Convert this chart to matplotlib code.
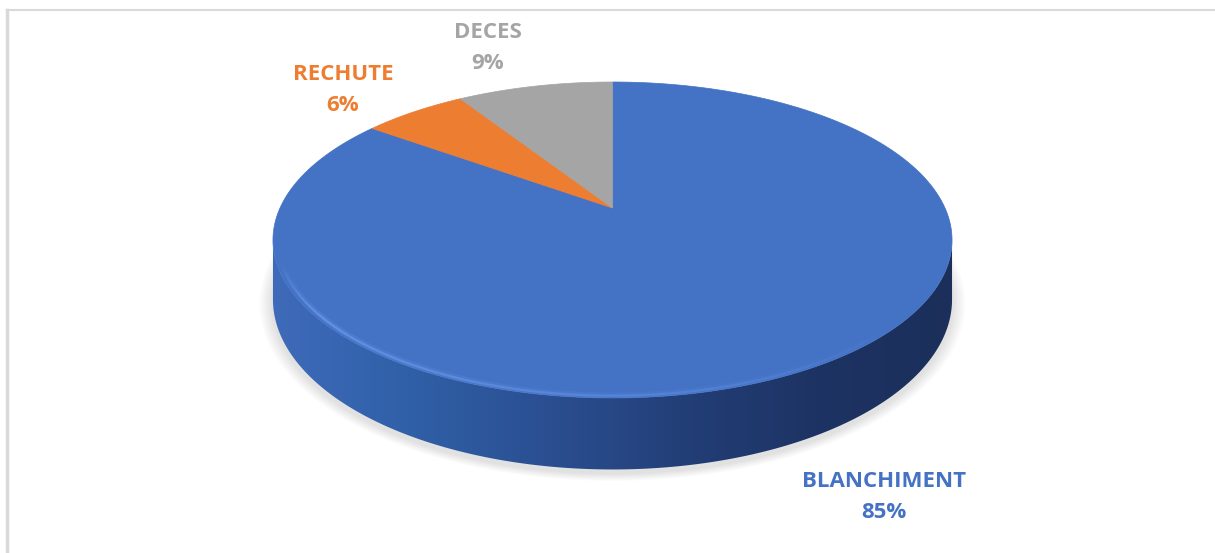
import numpy as np
import matplotlib.pyplot as plt
from matplotlib.patches import Polygon
from matplotlib.colors import LinearSegmentedColormap

# outcome shares
labels = ["BLANCHIMENT", "RECHUTE", "DECES"]
shares = [85, 6, 9]
colors = ["#4472C4", "#ED7D31", "#A5A5A5"]

W, H_PX = 1215, 553
fig = plt.figure(figsize=(W / 100, H_PX / 100), dpi=100)
ax = fig.add_axes([0, 0, 1, 1])
ax.set_xlim(0, W)
ax.set_ylim(H_PX, 0)
ax.axis("off")

# perspective disc: centre of the top face, radius, depth
CX, R = 612.5, 332.5
A, B, C = -109.4, 208.0, 0.2025
THICK = 57.0


def proj(phi, r=1.0, drop=0.0):
    u = r * np.cos(phi)
    v = r * np.sin(phi)
    d = 1 + C * v
    return CX + R * u / d, (A * v + B + drop) / d


# silhouette angles of the rim
phi_l = np.pi + np.arcsin(C)
phi_r = 2 * np.pi - np.arcsin(C)

# soft shadow under the disc
t = np.linspace(0, 2 * np.pi, 300)
bx, by = proj(t, 1.0, THICK)
mx, my = bx.mean(), by.mean()
for k in range(10):
    s = 1.0 + 0.004 * (k + 1)
    ax.add_patch(Polygon(np.column_stack([mx + (bx - mx) * s, my + 4 + (by - my) * s]),
                         closed=True, fc="black", ec="none", alpha=0.012, zorder=1))

# side wall (all of the front belongs to the first slice)
ps = np.linspace(phi_l, phi_r, 300)
tx, ty = proj(ps)
sx, sy = proj(ps[::-1], 1.0, THICK)
side = Polygon(np.column_stack([np.r_[tx, sx], np.r_[ty, sy]]), closed=True,
               fc="none", ec="none", zorder=2)
ax.add_patch(side)
side_cmap = LinearSegmentedColormap.from_list(
    "side", ["#3f6bba", "#3060a8", "#2b4f92", "#233f78", "#1d3363", "#1b2f5a"])
grad = np.linspace(0, 1, 256)[None, :]
im = ax.imshow(grad, cmap=side_cmap, aspect="auto",
               extent=[CX - R * 1.03, CX + R * 1.03, 480, 180], zorder=2)
im.set_clip_path(side)

# top face wedges, clockwise from 12 o'clock
start = np.pi / 2
for val, col in zip(shares, colors):
    sweep = val / sum(shares) * 2 * np.pi
    arc = np.linspace(start, start - sweep, max(int(val * 6), 20))
    ax_, ay_ = proj(arc)
    cx0, cy0 = proj(0.0, 0.0)
    ax.add_patch(Polygon(np.column_stack([np.r_[cx0, ax_], np.r_[cy0, ay_]]),
                         closed=True, fc=col, ec=col, lw=0.5, zorder=3))
    start -= sweep

# soft light bevel along the front rim
hp = np.linspace(phi_l + 0.12, 1.75 * np.pi, 80)
for rr, lw, amax in [(0.984, 4.0, 0.25), (0.986, 1.6, 0.75)]:
    hx, hy = proj(hp, rr)
    for i in range(len(hp) - 1):
        f = i / len(hp)
        a = amax * min(1.0, f * 6) * (1 - f) ** 0.8
        ax.plot(hx[i:i + 2], hy[i:i + 2] + 1, color="#6d9ef0", lw=lw, alpha=a,
                solid_capstyle="butt", zorder=4)

# chart frame (top and left edges)
ax.plot([7, W], [10, 10], color="#d9d9d9", lw=1.5, zorder=5)
ax.plot([7, 7], [10, H_PX], color="#d9d9d9", lw=2.5, zorder=5)

# data labels
font = dict(family=["Open Sans", "DejaVu Sans"], fontweight="bold", fontsize=16,
            ha="center", va="center", linespacing=1.6)
label_pos = [(884, 497), (343, 90), (488, 48)]
for name, val, col, (lx, ly) in zip(labels, shares, colors, label_pos):
    ax.text(lx, ly, f"{name}\n{val}%", color=col, zorder=6, **font)

fig.savefig("out.png", dpi=100, facecolor="white")
